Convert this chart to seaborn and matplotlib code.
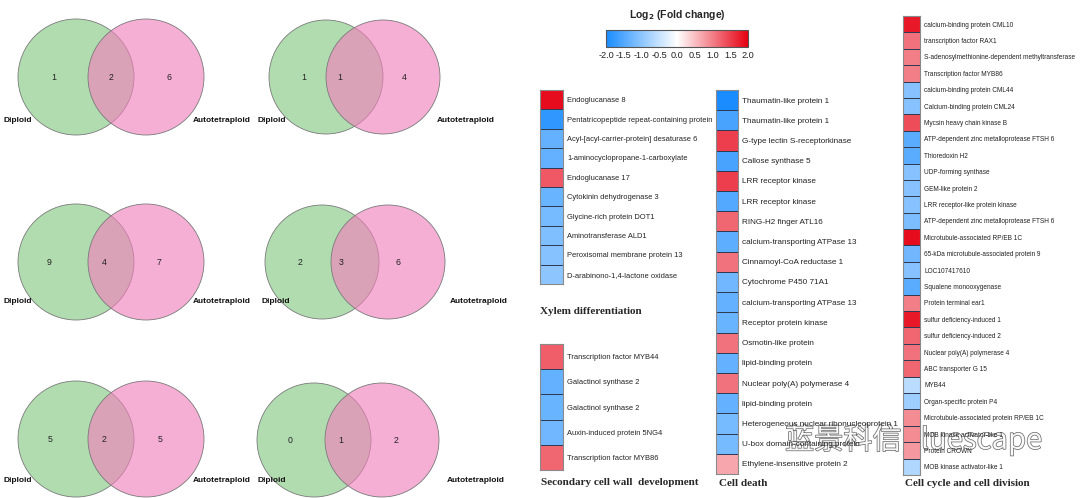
import numpy as np
import pandas as pd
import seaborn as sns
import matplotlib.pyplot as plt
from matplotlib.patches import Circle
from matplotlib.colors import LinearSegmentedColormap
import matplotlib.patheffects as pe

sns.set_theme(style='white')
plt.rcParams['font.family'] = ['Liberation Sans', 'Noto Sans CJK SC', 'DejaVu Sans']

# venn counts: (diploid only, shared, autotetraploid only)
venn_counts = [[1, 2, 6], [1, 1, 4],
               [9, 4, 7], [2, 3, 6],
               [5, 2, 5], [0, 1, 2]]

xylem_genes = ['Endoglucanase 8', 'Pentatricopeptide repeat-containing protein',
               'Acyl-[acyl-carrier-protein] desaturase 6',
               '1-aminocyclopropane-1-carboxylate', 'Endoglucanase 17',
               'Cytokinin dehydrogenase 3', 'Glycine-rich protein DOT1',
               'Aminotransferase ALD1', 'Peroxisomal membrane protein 13',
               'D-arabinono-1,4-lactone oxidase']
xylem_fc = [1.9, -1.8, -1.35, -1.35, 1.3, -1.3, -1.2, -1.1, -1.05, -1.0]

wall_genes = ['Transcription factor MYB44', 'Galactinol synthase 2',
              'Galactinol synthase 2', 'Auxin-induced protein 5NG4',
              'Transcription factor MYB86']
wall_fc = [1.25, -1.35, -1.3, -1.25, 1.2]

death_genes = ['Thaumatin-like protein 1', 'Thaumatin-like protein 1',
               'G-type lectin S-receptorkinase', 'Callose synthase 5',
               'LRR receptor kinase', 'LRR receptor kinase',
               'RING-H2 finger ATL16', 'calcium-transporting ATPase 13',
               'Cinnamoyl-CoA reductase 1', 'Cytochrome P450 71A1',
               'calcium-transporting ATPase 13', 'Receptor protein kinase',
               'Osmotin-like protein', 'lipid-binding protein',
               'Nuclear poly(A) polymerase 4', 'lipid-binding protein',
               'Heterogeneous nuclear ribonucleoprotein 1',
               'U-box domain-containing protein', 'Ethylene-insensitive protein 2']
death_fc = [-2.0, -1.6, 1.5, -1.6, 1.5, -1.5, 1.2, -1.4, 1.1, -1.25,
            -1.35, -1.3, 1.1, -1.35, 1.1, -1.35, -1.2, -1.2, 0.7]

cycle_genes = ['calcium-binding protein CML10', 'transcription factor RAX1',
               'S-adenosylmethionine-dependent methyltransferase',
               'Transcription factor MYB86', 'calcium-binding protein CML44',
               'Calcium-binding protein CML24', 'Mycsin heavy chain kinase B',
               'ATP-dependent zinc metalloprotease FTSH 6', 'Thioredoxin H2',
               'UDP-forming synthase', 'GEM-like protein 2',
               'LRR receptor-like protein kinase',
               'ATP-dependent zinc metalloprotease FTSH 6',
               'Microtubule-associated RP/EB 1C',
               '65-kDa microtubule-associated protein 9', 'LOC107417610',
               'Squalene monooxygenase', 'Protein terminal ear1',
               'sulfur deficiency-induced 1', 'sulfur deficiency-induced 2',
               'Nuclear poly(A) polymerase 4', 'ABC transporter G 15', 'MYB44',
               'Organ-specific protein P4',
               'Microtubule-associated protein RP/EB 1C',
               'MOB kinase activator-like 1', 'Protein CROWN',
               'MOB kinase activator-like 1']
cycle_fc = [1.8, 1.1, 1.0, 1.0, -1.05, -1.05, 1.4, -1.45, -1.45, -1.05, -1.05,
            -1.05, -1.15, 1.9, -1.25, -1.05, -1.45, 1.0, 1.8, 1.2, 1.1, 1.2,
            -0.6, -0.85, 0.9, 0.9, 0.8, -0.7]

cbar_ticks = [-2.0, -1.5, -1.0, -0.5, 0.0, 0.5, 1.0, 1.5, 2.0]

W, H = 1080, 498
fig = plt.figure(figsize=(W / 100, H / 100), dpi=100)

cmap = LinearSegmentedColormap.from_list('fc', ['#1a8cff', '#ffffff', '#e60012'])


def px_axes(x, y, w, h):
    return fig.add_axes([x / W, 1 - (y + h) / H, w / W, h / H])


# background axis in pixel coordinates for venns and titles
base = fig.add_axes([0, 0, 1, 1])
base.set_xlim(0, W)
base.set_ylim(H, 0)
base.axis('off')

venn_pos = [(76, 146, 77, 58), (326, 383, 77, 57),
            (76, 146, 262, 58), (322, 388, 262, 57),
            (76, 146, 439, 58), (314, 382, 440, 57)]
num_x = [(54, 111, 169), (304, 340, 404),
         (49, 104, 159), (300, 341, 398),
         (50, 104, 160), (290, 341, 396)]
lab_pos = [(3, 193, 120), (257, 437, 120),
           (3, 193, 301), (262, 450, 301),
           (3, 193, 480), (258, 447, 480)]

for (gx, px, cy, r), nx, (lx, rx, ly), counts in zip(venn_pos, num_x, lab_pos, venn_counts):
    base.add_patch(Circle((gx, cy), r, facecolor='#b1dcb0', edgecolor='#7a7a7a', lw=0.6))
    base.add_patch(Circle((px, cy), r, facecolor=(242 / 255, 127 / 255, 187 / 255),
                          alpha=0.62, edgecolor='none'))
    base.add_patch(Circle((px, cy), r, facecolor='none', edgecolor='#7a7a7a', lw=0.6))
    for x, c in zip(nx, counts):
        base.text(x, cy, str(c), ha='center', va='center', fontsize=6.3, color='#222222')
    base.text(lx, ly, 'Diploid', ha='left', va='center', fontsize=6,
              fontweight='bold', color='#111111')
    base.text(rx, ly, 'Autotetraploid', ha='left', va='center', fontsize=6,
              fontweight='bold', color='#111111')


def draw_heat(genes, values, x, y, w, h, fs):
    ax = px_axes(x, y, w, h)
    df = pd.DataFrame({'fc': values}, index=genes)
    sns.heatmap(df, ax=ax, cmap=cmap, vmin=-2, vmax=2, cbar=False,
                linewidths=0.7, linecolor='#2f3b52', xticklabels=False,
                yticklabels=genes)
    ax.yaxis.tick_right()
    ax.set_yticklabels(genes, rotation=0, fontsize=fs, color='#222222')
    ax.tick_params(axis='y', length=0, pad=3)
    ax.set_ylabel('')
    for s in ax.spines.values():
        s.set_visible(True)
        s.set_color('#8a8a8a')
        s.set_linewidth(0.8)
    return ax


draw_heat(xylem_genes, xylem_fc, 540, 90, 23, 194, 5.4)
draw_heat(wall_genes, wall_fc, 540, 344, 23, 126, 5.4)
draw_heat(death_genes, death_fc, 716, 90, 22, 384, 5.9)
draw_heat(cycle_genes, cycle_fc, 903, 16, 17, 459, 4.7)

serif = ['Liberation Serif', 'DejaVu Serif']
base.text(540, 311, 'Xylem differentiation', fontsize=8, fontweight='bold',
          family=serif, va='center')
base.text(541, 482, 'Secondary cell wall  development', fontsize=8,
          fontweight='bold', family=serif, va='center')
base.text(719, 483, 'Cell death', fontsize=8, fontweight='bold', family=serif,
          va='center')
base.text(905, 483, 'Cell cycle and cell division', fontsize=8,
          fontweight='bold', family=serif, va='center')

# colorbar
cax = px_axes(606, 30, 142, 17)
sm = plt.cm.ScalarMappable(cmap=cmap, norm=plt.Normalize(-2, 2))
cb = fig.colorbar(sm, cax=cax, orientation='horizontal', ticks=cbar_ticks)
cb.ax.set_xticklabels(['%.1f' % t for t in cbar_ticks], fontsize=6.6, color='#222222')
cb.ax.tick_params(length=0, pad=3)
cb.outline.set_edgecolor('#555555')
cb.outline.set_linewidth(0.8)
base.text(677, 15, r'Log$_\mathbf{2}$ (Fold change)', ha='center', va='center',
          fontsize=7.5, fontweight='bold')

# watermark
base.text(785, 440, '蓝景科信Bluescape', fontsize=21, color='white', va='center',
          family=['Noto Sans CJK SC', 'DejaVu Sans'], alpha=0.9,
          path_effects=[pe.withStroke(linewidth=1.0, foreground='#555555')])

fig.savefig('out.png', dpi=100)
